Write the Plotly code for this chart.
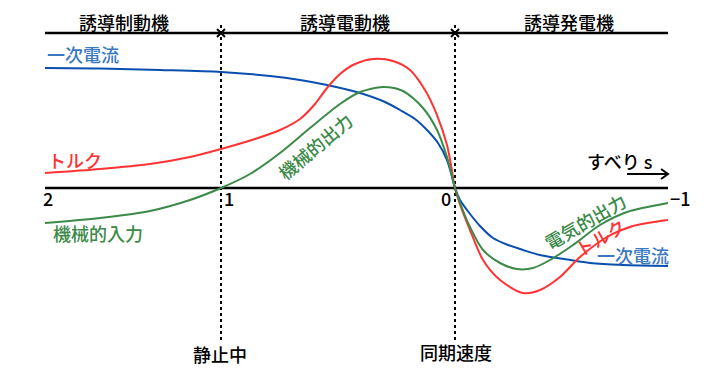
import plotly.graph_objects as go

# Positions along the horizontal (slip) direction, in chart units
slip_ticks = ["2", "1", "0", "\u22121"]
slip_tick_pos = [48, 229, 446, 680]
pos_standstill = 221
pos_sync = 455
pos_left = 45
pos_right = 668

# Primary current (一次電流)
cur_x = [45, 100, 160, 221, 270, 300, 327, 360, 385, 400, 415, 427, 438, 447, 451, 455, 460, 467, 480, 493, 508, 523, 540, 557, 590, 623, 668]
cur_y = [68, 68.5, 70, 72, 76, 80, 85, 93, 102, 110, 119, 130, 143, 160, 173, 188, 200, 210, 226, 238, 245, 250, 255, 258, 263, 265, 266]

# Torque (トルク)
trq_x = [45, 100, 150, 190, 221, 255, 280, 300, 315, 327, 340, 355, 373, 393, 410, 425, 437, 447, 451, 455, 462, 470, 483, 500, 523, 540, 560, 580, 607, 633, 668]
trq_y = [173, 169, 164, 157, 149, 139, 130, 119, 104, 88, 74, 64, 59, 61, 70, 90, 115, 145, 165, 188, 210, 230, 260, 280, 293, 290, 277, 257, 237, 226, 220]

# Mechanical input/output & electrical output
pwr_x = [45, 100, 150, 190, 221, 250, 280, 310, 340, 360, 383, 403, 423, 437, 447, 451, 455, 462, 470, 483, 500, 517, 533, 550, 573, 600, 627, 668]
pwr_y = [223, 218, 211, 200, 188, 174, 153, 128, 104, 92, 87, 91, 108, 130, 157, 172, 188, 208, 227, 250, 263, 269, 268, 260, 245, 225, 212, 203]

axis_y = 188
top_y = 33

BLUE = "#0a4fb0"
BLUE_TXT = "#3a78c0"
RED = "#ff3333"
GREEN = "#3b8a48"
FONT = "Noto Sans CJK JP"

fig = go.Figure()

# axis lines
fig.add_trace(go.Scatter(x=[pos_left, pos_right], y=[axis_y, axis_y], mode="lines",
                         line=dict(color="black", width=2.5), hoverinfo="skip"))
fig.add_trace(go.Scatter(x=[pos_left, pos_right], y=[top_y, top_y], mode="lines",
                         line=dict(color="black", width=2.5), hoverinfo="skip"))
# dotted verticals
for xp in [pos_standstill, pos_sync]:
    fig.add_trace(go.Scatter(x=[xp, xp], y=[25, 340], mode="lines",
                             line=dict(color="black", width=2, dash="dot"), hoverinfo="skip"))
fig.add_trace(go.Scatter(x=[pos_standstill, pos_sync], y=[top_y, top_y], mode="markers",
                         marker=dict(symbol="x-thin", size=8, line=dict(color="black", width=2)),
                         hoverinfo="skip"))

# curves
SM = 0.8
fig.add_trace(go.Scatter(x=cur_x, y=cur_y, mode="lines", line=dict(color=BLUE, width=2, shape="spline", smoothing=SM)))
fig.add_trace(go.Scatter(x=trq_x, y=trq_y, mode="lines", line=dict(color=RED, width=2, shape="spline", smoothing=SM)))
fig.add_trace(go.Scatter(x=pwr_x, y=pwr_y, mode="lines", line=dict(color=GREEN, width=2, shape="spline", smoothing=SM)))

# slip arrow
fig.add_trace(go.Scatter(x=[627, 668, None, 661, 668, 661], y=[174, 174, None, 169, 174, 179], mode="lines",
                         line=dict(color="black", width=2), hoverinfo="skip"))

ann = []
def txt(x, y, s, color="black", angle=0, xanchor="center", size=18):
    ann.append(dict(x=x, y=y, text=s, showarrow=False, textangle=angle, xanchor=xanchor,
                    yanchor="middle", font=dict(family=FONT, size=size, color=color, weight=500)))

txt(124, 22, "誘導制動機")
txt(345, 22, "誘導電動機")
txt(569, 22, "誘導発電機")
for lab, xp in zip(slip_ticks, slip_tick_pos):
    txt(xp, 198, lab)
txt(619, 161, "すべり s")
txt(220, 354, "静止中")
txt(456, 352, "同期速度")
txt(83, 54, "一次電流", BLUE_TXT)
txt(75, 160, "トルク", RED)
txt(98, 233, "機械的入力", GREEN)
txt(315, 146, "機械的出力", GREEN, -40)
txt(585, 221, "電気的出力", GREEN, -30)
txt(600, 237, "トルク", RED, -30)
txt(633, 255, "一次電流", BLUE_TXT)

fig.update_layout(
    width=720, height=380, margin=dict(l=0, r=0, t=0, b=0),
    paper_bgcolor="white", plot_bgcolor="white", showlegend=False,
    xaxis=dict(range=[0, 720], visible=False, fixedrange=True),
    yaxis=dict(range=[380, 0], visible=False, fixedrange=True),
    annotations=ann,
)
fig.write_html("out.html", config={"displayModeBar": False, "staticPlot": True},
               post_script="document.body.style.margin='0px';document.body.style.overflow='hidden';")
